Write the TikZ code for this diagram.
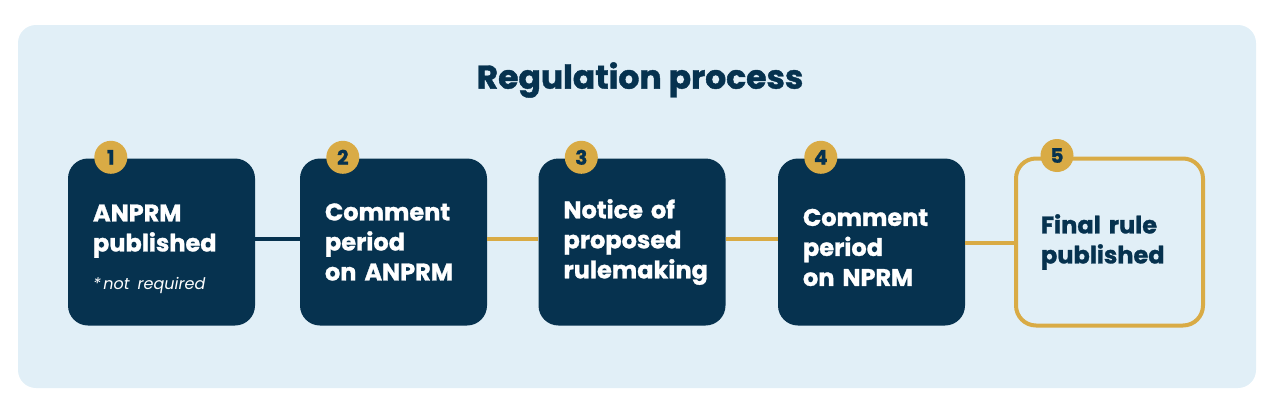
\documentclass[tikz,border=0pt]{standalone}
\usepackage{fontspec}
\setmainfont{Poppins}[BoldFeatures={FakeBold=1.2}]
\usetikzlibrary{positioning}
\definecolor{navy}{HTML}{06324F}
\definecolor{gold}{HTML}{D9AB45}
\definecolor{panel}{HTML}{E1EFF7}
\tikzset{
	stepbox/.style={rounded corners=20pt, minimum width=187pt, minimum height=167pt,
		text width=137pt, inner xsep=25pt, align=left,
		font=\fontsize{24}{30}\selectfont\bfseries},
	darkbox/.style={stepbox, fill=navy, text=white},
	lightbox/.style={stepbox, draw=gold, line width=4pt, fill=panel, text=navy},
	badge/.style={circle, fill=gold, minimum size=33pt, inner sep=0pt, text=navy,
		font=\fontsize{20}{20}\selectfont\bfseries},
	link/.style={line width=4pt}
}
\newcommand{\noterequired}{{\fontsize{16}{18}\selectfont\mdseries\itshape *\,not required}}

\begin{document}
\begin{tikzpicture}[x=1pt,y=-1pt]
	\useasboundingbox (0,0) rectangle (1280,407);
	\fill[panel, rounded corners=18pt] (18,25) rectangle (1256,388);
	\node[text=navy, font=\fontsize{33}{33}\selectfont\bfseries] (title) at (640,80) {Regulation process};
	
	\node[darkbox] (b1) at (161.5,242) {\rule{0pt}{31pt}ANPRM\\published\\[8pt]\noterequired};
	\node[darkbox] (b2) at (393.5,242) {Comment\\period\\on ANPRM};
	\node[darkbox] (b3) at (632,242) {Notice of\\proposed\\rulemaking};
	\node[darkbox] (b4) at (871.5,242) {\rule{0pt}{28pt}Comment\\period\\on NPRM};
	\node[lightbox] (b5) at (1109.5,242) {Final rule\\published};
	
	\draw[link, navy] ([yshift=3pt]b1.east) -- ([yshift=3pt]b2.west);
	\draw[link, gold] ([yshift=3pt]b2.east) -- ([yshift=3pt]b3.west);
	\draw[link, gold] ([yshift=3pt]b3.east) -- ([yshift=3pt]b4.west);
	\draw[link, gold] ([yshift=-1pt]b4.east) -- ([yshift=-1pt]b5.west);
	
	\foreach \i in {1,...,5} {
		\node[badge] (n\i) at ([xshift=43pt,yshift=1pt]b\i.north west) {\i};
	}
\end{tikzpicture}
\end{document}
